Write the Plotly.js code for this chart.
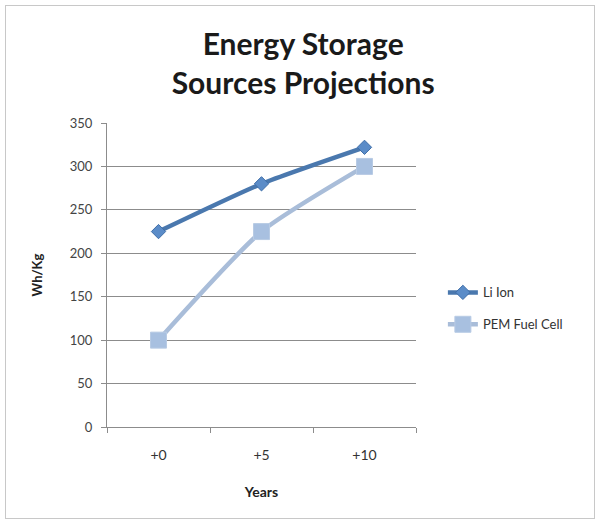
<!DOCTYPE html>
<html>
<head>
<meta charset="utf-8">
<script src="https://cdn.plot.ly/plotly-3.0.1.min.js"></script>
<style>
  html, body { margin: 0; padding: 0; background: #fff; }
  #wrap { position: relative; width: 598px; height: 523px; }
  #frame { position: absolute; left: 5px; top: 5px; width: 588px; height: 512px; border: 1px solid #c8c8c8; pointer-events: none; }
  #chart { position: absolute; left: 0; top: 0; width: 598px; height: 523px; }
</style>
</head>
<body>
<div id="wrap">
  <div id="chart"></div>
  <div id="frame"></div>
</div>
<script>
const categories = ["+0", "+5", "+10"];
const liIon = [225, 280, 322];
const pemFuelCell = [100, 225, 300];
const seriesNames = ["Li Ion", "PEM Fuel Cell"];
const yTicks = [0, 50, 100, 150, 200, 250, 300, 350];

const font = "Lato, 'Open Sans', sans-serif";

const traces = [
  {
    x: categories, y: liIon, name: seriesNames[0], type: "scatter", mode: "lines+markers",
    legendgroup: "a",
    line: { color: "#4a78ae", width: 4.5, shape: "spline", smoothing: 0.6 },
    marker: { symbol: "diamond", size: 11, color: "#5b8cc8", line: { color: "#3f6ea8", width: 1 } }
  },
  {
    x: categories, y: pemFuelCell, name: seriesNames[1], type: "scatter", mode: "lines+markers",
    legendgroup: "b",
    line: { color: "#a9bdd9", width: 4.5, shape: "spline", smoothing: 0.6 },
    marker: { symbol: "square", size: 16, color: "#a8c0e0", line: { color: "#b8cbe4", width: 1 } }
  }
];

const layout = {
  width: 598, height: 523,
  margin: { l: 107, r: 182, t: 123, b: 96 },
  paper_bgcolor: "#ffffff",
  plot_bgcolor: "#ffffff",
  font: { family: font, color: "#333", size: 12 },
  title: {
    text: "<b>Energy Storage<br>Sources Projections</b>",
    font: { family: font, size: 30, color: "#1a1a1a" },
    x: 0.507, xref: "container", xanchor: "center",
    y: 0.895, yref: "container", yanchor: "top"
  },
  xaxis: {
    type: "category",
    range: [-0.5, 2.5],
    showgrid: false,
    showline: true, linecolor: "#8c8c8c", linewidth: 1,
    ticks: "outside", tickson: "boundaries", ticklen: 5, tickcolor: "#8c8c8c",
    ticklabelstandoff: 15,
    tickfont: { family: font, size: 14, color: "#333" },
    title: { text: "<b>Years</b>", font: { family: font, size: 14, color: "#222" }, standoff: 25 },
    fixedrange: true
  },
  yaxis: {
    range: [0, 350],
    tickvals: yTicks,
    showgrid: true, gridcolor: "#8c8c8c", gridwidth: 1,
    showline: true, linecolor: "#8c8c8c", linewidth: 1,
    zeroline: false,
    ticks: "outside", ticklen: 5, tickcolor: "#8c8c8c",
    ticklabelstandoff: 6,
    tickfont: { family: font, size: 13, color: "#444" },
    title: { text: "<b>Wh/Kg</b>", font: { family: font, size: 13, color: "#222" }, standoff: 24 },
    fixedrange: true
  },
  legend: {
    x: 1.087, xanchor: "left",
    y: 0.39, yanchor: "middle",
    font: { family: font, size: 13, color: "#333" },
    tracegroupgap: 12,
    bgcolor: "rgba(0,0,0,0)"
  },
  showlegend: true
};

Plotly.newPlot("chart", traces, layout, { displayModeBar: false, staticPlot: true });
</script>
</body>
</html>
